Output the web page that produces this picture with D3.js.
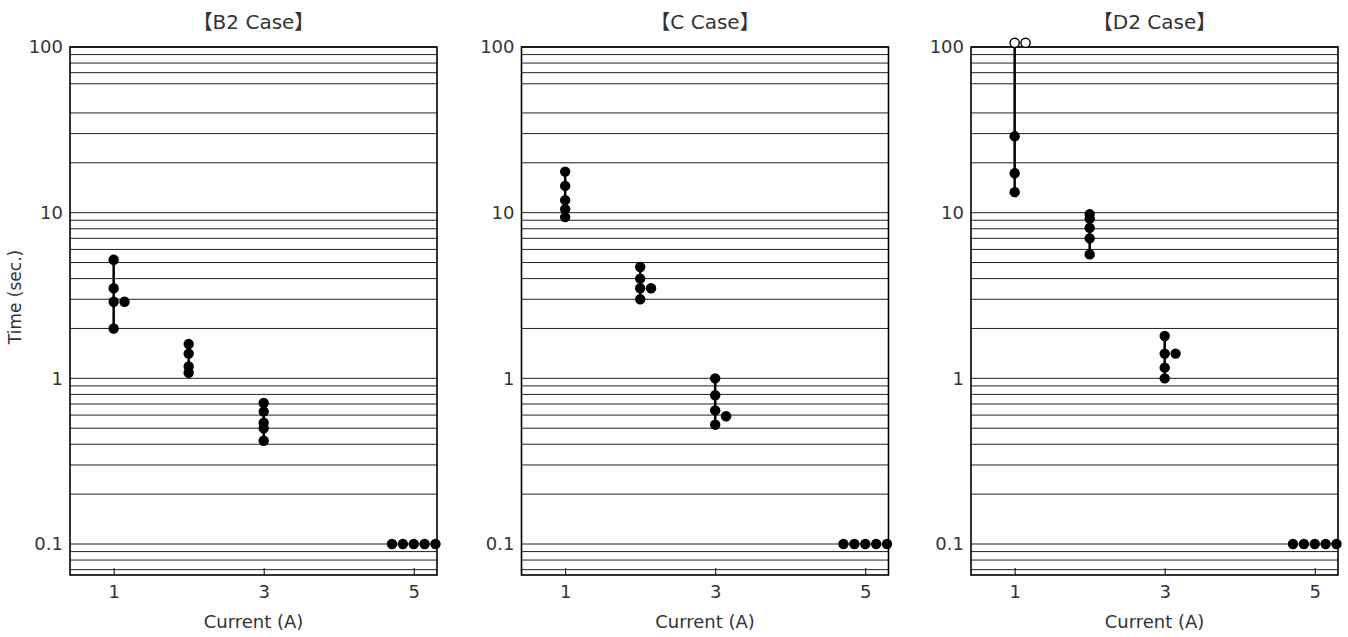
<!DOCTYPE html>
<html>
<head>
<meta charset="utf-8">
<script src="https://cdn.jsdelivr.net/npm/d3@7"></script>
<style>
  body { margin: 0; background: #fff; }
  text { font-family: "DejaVu Sans", "Noto Sans CJK JP", sans-serif; fill: #333; }
</style>
</head>
<body>
<svg width="1348" height="637"></svg>
<script>
const caseTitles = ['【B2 Case】', '【C Case】', '【D2 Case】'];
const xTicks = [1, 3, 5];
const yTicks = [0.1, 1, 10, 100];
const yTickLabels = ['0.1', '1', '10', '100'];
const gridValues = [0.07, 0.08, 0.09, 0.1, 0.2, 0.3, 0.4, 0.5, 0.6, 0.7, 0.8, 0.9,
  1, 2, 3, 4, 5, 6, 7, 8, 9, 10, 20, 30, 40, 60, 70, 80, 90, 100];

// each case: current (A), time (sec.), slot (side-by-side order), open marker = did not blow
const b2Current = [1, 1, 1, 1, 1, 2, 2, 2, 2, 3, 3, 3, 3, 3, 5, 5, 5, 5, 5];
const b2Time = [5.2, 3.5, 2.9, 2.9, 2.0, 1.61, 1.41, 1.18, 1.08, 0.71, 0.63, 0.54, 0.50, 0.42, 0.1, 0.1, 0.1, 0.1, 0.1];
const b2Slot = [0, 0, 0, 1, 0, 0, 0, 0, 0, 0, 0, 0, 0, 0, -2, -1, 0, 1, 2];

const cCurrent = [1, 1, 1, 1, 1, 2, 2, 2, 2, 2, 3, 3, 3, 3, 3, 5, 5, 5, 5, 5];
const cTime = [17.7, 14.5, 11.9, 10.5, 9.4, 4.7, 4.0, 3.5, 3.5, 3.0, 1.0, 0.79, 0.64, 0.59, 0.525, 0.1, 0.1, 0.1, 0.1, 0.1];
const cSlot = [0, 0, 0, 0, 0, 0, 0, 0, 1, 0, 0, 0, 0, 1, 0, -2, -1, 0, 1, 2];

const d2Current = [1, 1, 1, 1, 1, 2, 2, 2, 2, 2, 3, 3, 3, 3, 3, 5, 5, 5, 5, 5];
const d2Time = [106, 106, 28.9, 17.3, 13.3, 9.8, 9.2, 8.1, 7.0, 5.6, 1.8, 1.41, 1.41, 1.16, 1.0, 0.1, 0.1, 0.1, 0.1, 0.1];
const d2Slot = [0, 1, 0, 0, 0, 0, 0, 0, 0, 0, 0, 0, 1, 0, 0, -2, -1, 0, 1, 2];
const d2Open = [true, true, false, false, false, false, false, false, false, false, false, false, false, false, false, false, false, false, false, false];

const caseData = [
  { current: b2Current, time: b2Time, slot: b2Slot, open: [] },
  { current: cCurrent, time: cTime, slot: cSlot, open: [] },
  { current: d2Current, time: d2Time, slot: d2Slot, open: d2Open }
];

const panelLefts = [70, 521.5, 971];
const panelW = 367, plotTop = 47, plotBottom = 575;
const slotStep = 0.145;

const svg = d3.select('svg');

const y = d3.scaleLog().domain([0.065, 100]).range([plotBottom, plotTop]);

caseData.forEach((cd, i) => {
  const left = panelLefts[i];
  const x = d3.scaleLinear().domain([0.418, 5.31]).range([left, left + panelW]);
  const g = svg.append('g');

  // grid
  g.selectAll('line.grid')
    .data(gridValues)
    .enter()
    .append('line')
    .attr('x1', left).attr('x2', left + panelW)
    .attr('y1', d => y(d)).attr('y2', d => y(d))
    .attr('stroke', '#222')
    .attr('stroke-width', 1);

  // frame
  g.append('rect')
    .attr('x', left).attr('y', plotTop)
    .attr('width', panelW).attr('height', plotBottom - plotTop)
    .attr('fill', 'none').attr('stroke', '#000').attr('stroke-width', 1.6);

  // x axis (ticks inward)
  const xAxis = d3.axisBottom(x).tickValues(xTicks).tickSize(-7).tickPadding(10).tickFormat(d3.format('d'));
  const xg = g.append('g').attr('transform', `translate(0,${plotBottom})`).call(xAxis);
  xg.attr('font-family', null).attr('font-size', null);
  xg.select('.domain').remove();
  xg.selectAll('line').attr('stroke', '#000');
  xg.selectAll('text').style('font-size', '18px').attr('fill', '#333');

  // y axis labels
  const yAxis = d3.axisLeft(y).tickValues(yTicks).tickSize(0).tickPadding(7)
    .tickFormat((d, k) => yTickLabels[k]);
  const yg = g.append('g').attr('transform', `translate(${left},0)`).call(yAxis);
  yg.attr('font-family', null).attr('font-size', null);
  yg.select('.domain').remove();
  yg.selectAll('text').style('font-size', '18px').attr('fill', '#333');

  // titles
  g.append('text')
    .attr('x', left + panelW / 2).attr('y', 29)
    .attr('text-anchor', 'middle')
    .style('font-size', '20px')
    .text(caseTitles[i]);
  g.append('text')
    .attr('x', left + panelW / 2).attr('y', 628)
    .attr('text-anchor', 'middle')
    .style('font-size', '18px')
    .text('Current (A)');

  const pts = cd.current.map((c, k) => ({ c, t: cd.time[k], s: cd.slot[k], open: !!cd.open[k] }));

  // vertical range lines per current
  const groups = d3.groups(pts.filter(p => p.s === 0), p => p.c);
  g.selectAll('line.range')
    .data(groups)
    .enter()
    .append('line')
    .attr('x1', d => x(d[0])).attr('x2', d => x(d[0]))
    .attr('y1', d => y(d3.max(d[1], p => p.t)))
    .attr('y2', d => y(d3.min(d[1], p => p.t)))
    .attr('stroke', '#000').attr('stroke-width', 2.5);

  g.selectAll('circle.pt')
    .data(pts)
    .enter()
    .append('circle')
    .attr('cx', d => x(d.c + d.s * slotStep))
    .attr('cy', d => y(d.t))
    .attr('r', d => d.open ? 4.6 : 5.2)
    .attr('fill', d => d.open ? '#fff' : '#000')
    .attr('stroke', '#000')
    .attr('stroke-width', d => d.open ? 1.4 : 0);
});

svg.append('text')
  .attr('transform', 'translate(21,297) rotate(-90)')
  .attr('text-anchor', 'middle')
  .style('font-size', '17px')
  .text('Time (sec.)');
</script>
</body>
</html>
